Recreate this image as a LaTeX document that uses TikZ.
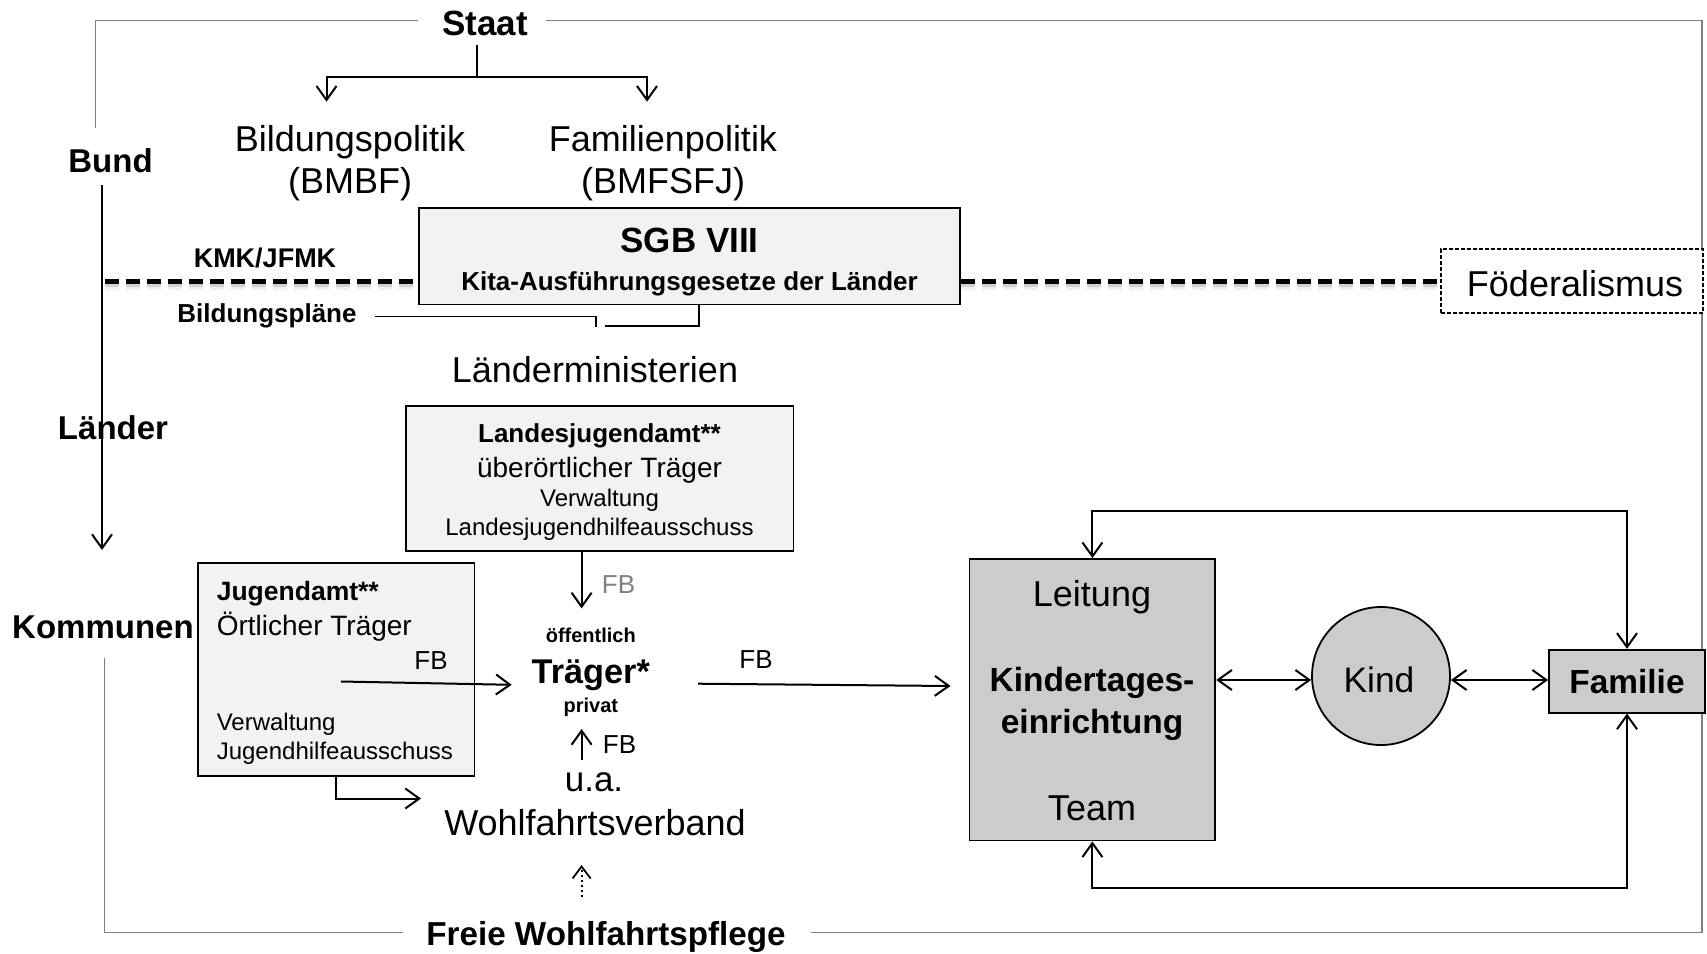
\documentclass[tikz,border=0pt]{standalone}
\usepackage{fontspec}
\setmainfont{Liberation Sans}
\usetikzlibrary{arrows.meta}
\definecolor{boxlight}{HTML}{F2F2F2}
\definecolor{boxmid}{HTML}{CCCCCC}
\definecolor{framegrey}{HTML}{7F7F7F}
\definecolor{fbgrey}{HTML}{808080}
\newcommand{\setsz}[1]{\fontsize{#1}{#1}\selectfont}

\begin{document}
\begin{tikzpicture}[x=1pt,y=-1pt,
  txt/.style={inner sep=0pt, anchor=base},
  ltxt/.style={inner sep=0pt, anchor=base west},
  frameline/.style={draw=framegrey, line width=1.5pt},
  plain/.style={line width=2pt},
  thinln/.style={line width=1.5pt},
  arr/.style={line width=2pt, -{Straight Barb[length=14pt,width=20pt]}},
  darr/.style={line width=2pt, {Straight Barb[length=14pt,width=20pt]}-{Straight Barb[length=14pt,width=20pt]}},
  dotarr/.style={line width=2pt, dash pattern=on 2pt off 3pt, -{Straight Barb[length=12pt,width=18pt,line width=1.8pt]}},
  lightbox/.style={draw=black, line width=1.8pt, fill=boxlight, inner sep=0pt},
  midbox/.style={draw=black, line width=1.8pt, fill=boxmid, inner sep=0pt},
  dashbox/.style={draw=black, line width=1.3pt, dash pattern=on 4pt off 2pt, fill=white, inner sep=0pt},
  levelline/.style={line width=4.5pt, dash pattern=on 14pt off 7pt},
  levelshadowA/.style={line width=8pt, dash pattern=on 14pt off 7pt, draw=black, opacity=.06},
  levelshadowB/.style={line width=5pt, dash pattern=on 14pt off 7pt, draw=black, opacity=.12},
]
\useasboundingbox (0,0) rectangle (1707,953);
\fill[white] (0,0) rectangle (1707,953);

% outer frame with gaps for the level labels
\coordinate (frTL) at (95.4,20.7);
\coordinate (frTR) at (1702,20.7);
\coordinate (frBR) at (1702,932.6);
\coordinate (frBL) at (104.6,932.6);
\draw[frameline] (95.4,127.7) -- (frTL) -- (418,20.7);
\draw[frameline] (546,20.7) -- (frTR) -- (frBR) -- (811,932.6);
\draw[frameline] (403,932.6) -- (frBL) -- (104.6,657.8);

% boxes
\node[lightbox, minimum width=541pt, minimum height=96.2pt] (sgb) at (689.5,256.4) {};
\node[dashbox, minimum width=262pt, minimum height=64pt] (foed) at (1572,281) {};
\node[lightbox, minimum width=387.8pt, minimum height=145.1pt] (ljamt) at (599.5,478.15) {};
\node[lightbox, minimum width=276.5pt, minimum height=213.1pt] (jamt) at (336.25,669.25) {};
\node[midbox, minimum width=245.8pt, minimum height=281.5pt] (kita) at (1092.4,699.75) {};
\node[midbox, minimum width=156pt, minimum height=62.9pt] (fam) at (1627,681.15) {};
\node[midbox, circle, minimum size=138pt] (kind) at (1381,676) {};

% federalism dividing line with its soft shadow
\coordinate (dL) at (104.6,281.7);
\foreach \st/\dy in {levelshadowA/-4pt, levelshadowB/-3pt} {
  \draw[\st] ([yshift=\dy]dL) -- ([yshift=\dy]dL -| sgb.west);
  \draw[\st] ([yshift=\dy]dL -| sgb.east) -- ([yshift=\dy]dL -| foed.west);
}
\draw[levelline] (dL) -- (dL -| sgb.west);
\draw[levelline] (dL -| sgb.east) -- (dL -| foed.west);

% texts
\node[txt, font=\bfseries\setsz{35}] (staat) at (485,35.5) {Staat};
\node[txt, font=\bfseries\setsz{33}] (bund) at (110.5,172) {Bund};
\node[txt, font=\setsz{36}] (bpol) at (350,151) {Bildungspolitik};
\node[txt, font=\setsz{36}] (bmbf) at (350,193) {(BMBF)};
\node[txt, font=\setsz{36}] (fpol) at (663,151) {Familienpolitik};
\node[txt, font=\setsz{36}] (bmfsfj) at (663,193) {(BMFSFJ)};
\node[txt, font=\bfseries\setsz{35}] (sgbt) at (689.5,252.7) {SGB VIII};
\node[txt, font=\bfseries\setsz{26}] (kitag) at (689.5,290.4) {Kita-Ausführungsgesetze der Länder};
\node[txt, font=\bfseries\setsz{27}] (kmk) at (265,267.7) {KMK/JFMK};
\node[txt, font=\bfseries\setsz{26}] (bpl) at (267,322) {Bildungspläne};
\node[txt, font=\setsz{36}] (foedt) at (1575,296) {Föderalismus};
\node[txt, font=\setsz{36}] (lmin) at (595,382) {Länderministerien};
\node[txt, font=\bfseries\setsz{33}] (laender) at (113,439) {Länder};
\node[txt, font=\bfseries\setsz{33}] (kommunen) at (103,638.6) {Kommunen};

\node[txt, font=\bfseries\setsz{26}] (lj1) at (599.5,442.5) {Landesjugendamt**};
\node[txt, font=\setsz{28}] (lj2) at (599.5,477.5) {überörtlicher Träger};
\node[txt, font=\setsz{24}] (lj3) at (599.5,506) {Verwaltung};
\node[txt, font=\setsz{24}] (lj4) at (599.5,535) {Landesjugendhilfeausschuss};
\node[txt, font=\setsz{26}, text=fbgrey] (fb1) at (618.5,593) {FB};

\node[ltxt, font=\bfseries\setsz{26.5}] (j1) at (216.6,600) {Jugendamt**};
\node[ltxt, font=\setsz{28}] (j2) at (216.6,635) {Örtlicher Träger};
\node[txt, font=\setsz{26}] (fb2) at (431,669) {FB};
\node[ltxt, font=\setsz{24}] (j3) at (216.6,730.5) {Verwaltung};
\node[ltxt, font=\setsz{24}] (j4) at (216.6,759.6) {Jugendhilfeausschuss};

\node[txt, font=\bfseries\setsz{20}] (oeff) at (590.8,642.5) {öffentlich};
\node[txt, font=\bfseries\setsz{34.3}] (traeger) at (590.8,683) {Träger*};
\node[txt, font=\bfseries\setsz{20}] (privat) at (590.8,712) {privat};
\node[txt, font=\setsz{26}] (fb3) at (619.5,753) {FB};
\node[txt, font=\setsz{35}] (ua) at (594,791) {u.a.};
\node[txt, font=\setsz{36}] (wohl) at (595,835) {Wohlfahrtsverband};
\node[txt, font=\bfseries\setsz{33.2}] (freie) at (606,945) {Freie Wohlfahrtspflege};
\node[txt, font=\setsz{26}] (fb4) at (756,668.5) {FB};

\node[txt, font=\setsz{36}] (leitung) at (1092,606) {Leitung};
\node[txt, font=\bfseries\setsz{33.5}] (kita1) at (1092,691) {Kindertages-};
\node[txt, font=\bfseries\setsz{33.5}] (kita2) at (1092,733) {einrichtung};
\node[txt, font=\setsz{36}] (team) at (1092,820) {Team};
\node[txt, font=\setsz{35.4}] (kindt) at (1379,692) {Kind};
\node[txt, font=\bfseries\setsz{33.4}] (famt) at (1627,693.5) {Familie};

% Staat splits into the two ministries
\coordinate (fkS) at (477,45);
\coordinate (fk) at (477,76.7);
\coordinate (bpTip) at (326.5,101.7);
\coordinate (fpTip) at (647,101.7);
\draw[plain] (fkS) -- (fk);
\draw[arr] (fk) -| (bpTip);
\draw[arr] (fk) -| (fpTip);

% Bund -> Kommunen
\coordinate (lvTop) at (102,185);
\coordinate (lvTip) at (102,550);
\draw[arr] (lvTop) -- (lvTip);

% Bildungsplaene bracket
\coordinate (bk) at (699,326);
\draw[thinln] (375,316.7) -| (596,326.7);
\draw[thinln] (sgb.south -| bk) -- (bk) -- (604.6,326);

% arrows around the Traeger
\coordinate (ljTip) at (581.6,608.4);
\draw[arr] (ljamt.south -| ljTip) -- (ljTip);
\coordinate (jtS) at (340.8,681.5);
\coordinate (jtTip) at (511.7,684.8);
\draw[arr] (jtS) -- (jtTip);
\coordinate (jwTip) at (421,798.5);
\draw[arr] (jamt.south) |- (jwTip);
\coordinate (upS) at (581.6,760);
\coordinate (upTip) at (581.6,729);
\draw[arr] (upS) -- (upTip);
\coordinate (dotS) at (581.6,897);
\coordinate (dotTip) at (581.6,865);
\draw[dotarr] (dotS) -- (dotTip);
\coordinate (tkS) at (698,683.7);
\coordinate (tkTip) at (950.5,686);
\draw[arr] (tkS) -- (tkTip);

% Kita, Kind, Familie
\coordinate (kk) at (1300,680);
\draw[darr] (kita.east |- kk) -- (kind.west |- kk);
\draw[darr] (kind.east |- kk) -- (fam.west |- kk);
\coordinate (loopT) at (1360,510.5);
\coordinate (loopB) at (1360,888);
\draw[darr] (kita.north) |- (loopT) -| (fam.north);
\draw[darr] (kita.south) |- (loopB) -| (fam.south);
\end{tikzpicture}
\end{document}
